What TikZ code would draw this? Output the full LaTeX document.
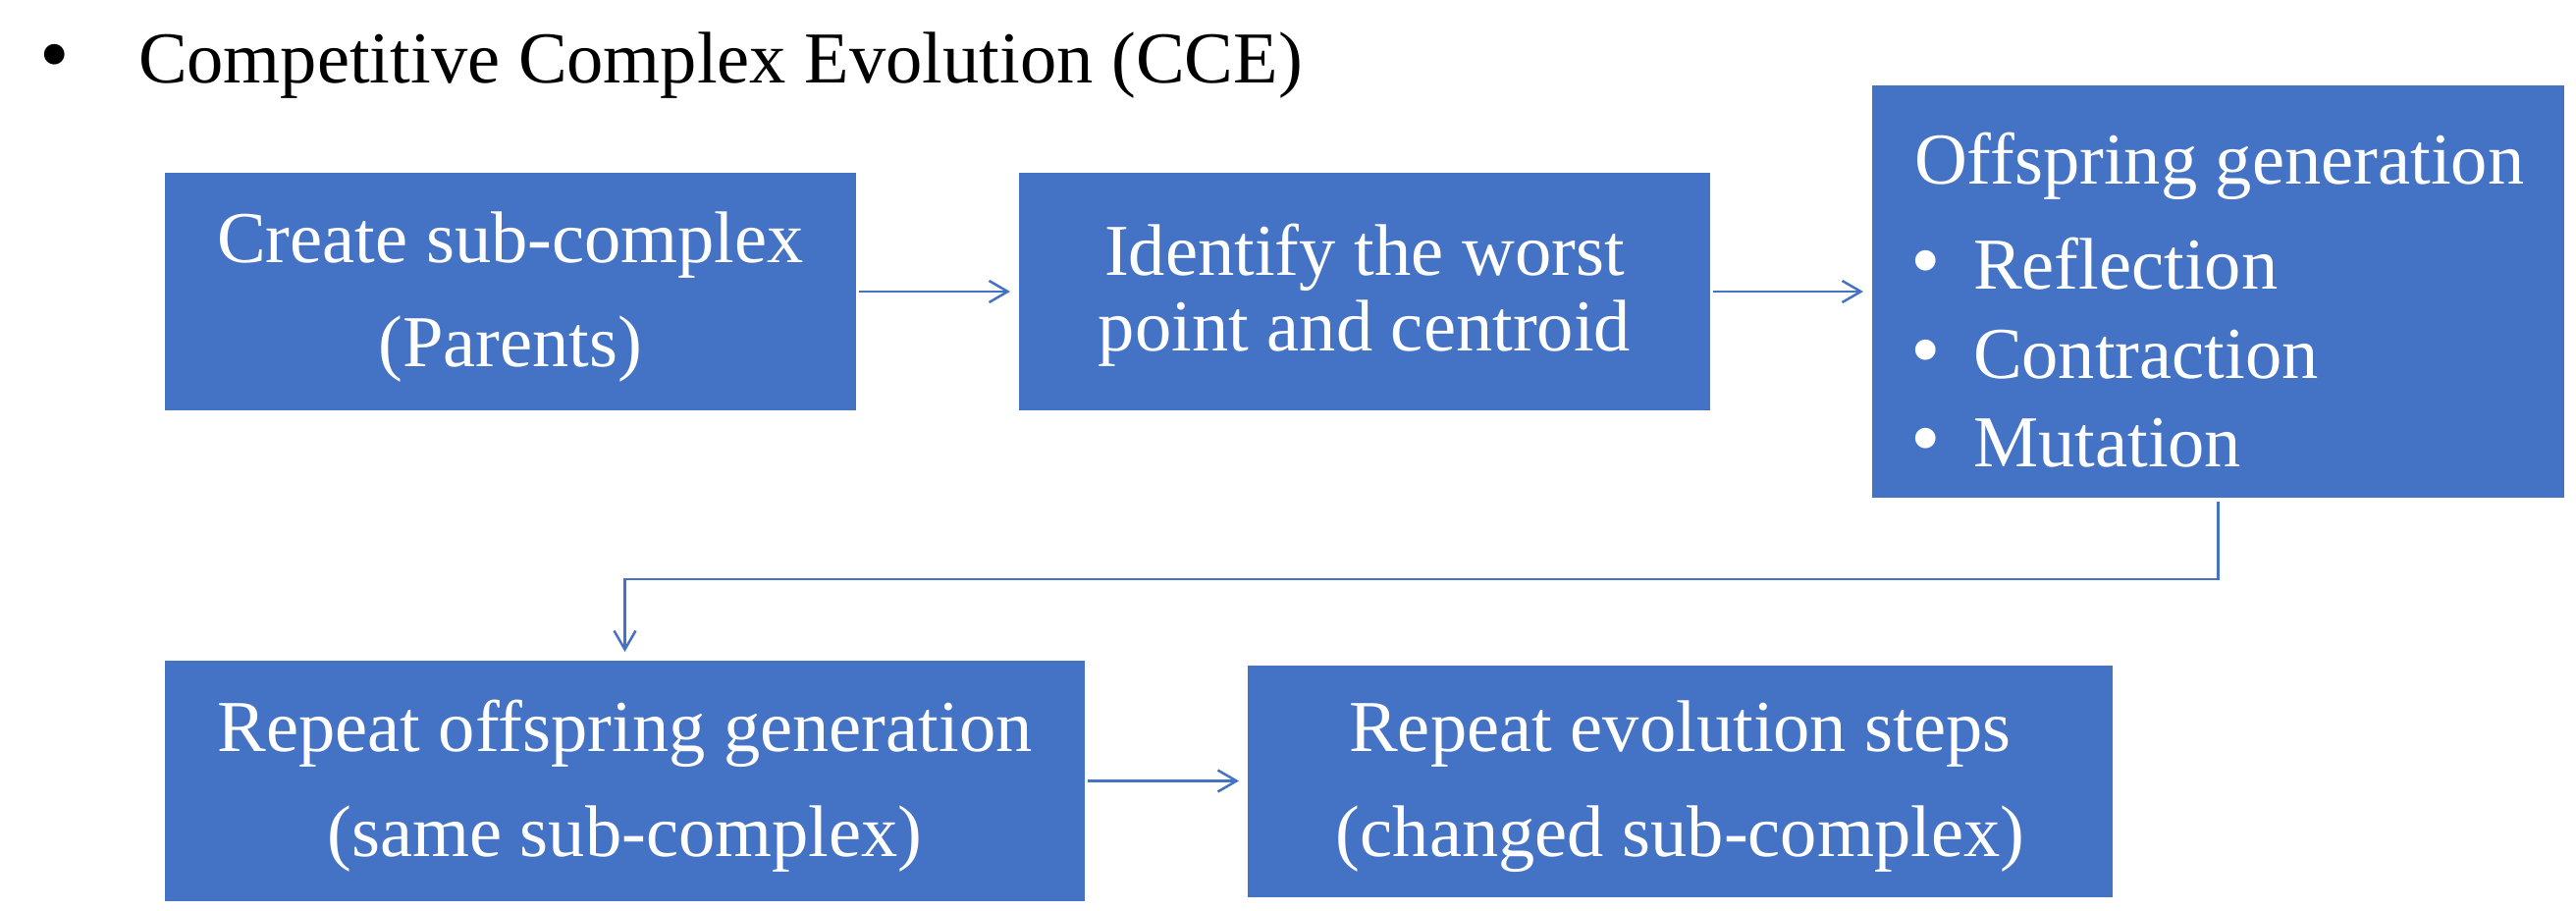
\documentclass[tikz,border=0pt]{standalone}
\usepackage{fontspec}
\setmainfont{Liberation Serif}
\usetikzlibrary{arrows.meta}
\definecolor{obl}{HTML}{4472C4}
\begin{document}
\begin{tikzpicture}[x=1pt,y=-1pt,
  box/.style={fill=obl, draw=none, inner sep=0pt, outer sep=0pt, rectangle},
  txt/.style={font=\fontsize{74.5}{80}\selectfont, inner sep=0pt, outer sep=0pt, anchor=base},
  wtxt/.style={txt, text=white},
  bul/.style={font=\fontsize{87}{90}\selectfont, inner sep=0pt, outer sep=0pt, anchor=base},
  arr/.style={draw=obl, line width=2.5pt, -{Straight Barb[length=19pt,width=22pt]}, shorten >=9pt, shorten <=3pt}]
\useasboundingbox (0,0) rectangle (2624,927);
% title
\node[bul] (tbul) at (56,84) {\textbullet};
\node[txt, anchor=base west] (title) at (141,84) {Competitive Complex Evolution (CCE)};
% boxes
\node[box, minimum width=704pt, minimum height=242pt] (B1) at (520,297) {};
\node[box, minimum width=704pt, minimum height=242pt] (B2) at (1390,297) {};
\node[box, minimum width=705pt, minimum height=420pt] (B3) at (2259.5,297) {};
\node[box, minimum width=937pt, minimum height=245pt] (B4) at (636.5,795.5) {};
\node[box, minimum width=881pt, minimum height=236pt] (B5) at (1711.5,796) {};
% box texts
\node[wtxt] (b1a) at (520,267) {Create sub-complex};
\node[wtxt] (b1b) at (520,373) {(Parents)};
\node[wtxt] (b2a) at (1390,280) {Identify the worst};
\node[wtxt] (b2b) at (1390,357) {point and centroid};
\node[wtxt, anchor=base west] (b3a) at (1950,187.5) {Offspring generation};
\node[bul, text=white] (b3u1) at (1962,294.5) {\textbullet};
\node[wtxt, anchor=base west] (b3b) at (2010,294.5) {Reflection};
\node[bul, text=white] (b3u2) at (1962,385.7) {\textbullet};
\node[wtxt, anchor=base west] (b3c) at (2010,385.7) {Contraction};
\node[bul, text=white] (b3u3) at (1962,475) {\textbullet};
\node[wtxt, anchor=base west] (b3d) at (2010,475) {Mutation};
\node[wtxt] (b4a) at (636.5,765) {Repeat offspring generation};
\node[wtxt] (b4b) at (636.5,872) {(same sub-complex)};
\node[wtxt] (b5a) at (1711.5,765) {Repeat evolution steps};
\node[wtxt] (b5b) at (1711.5,872) {(changed sub-complex)};
% connectors
\coordinate (bend) at (636.5,590);
\draw[arr] (B1.east) -- (B2.west);
\draw[arr] (B2.east) -- (B3.west);
\draw[arr, shorten <=4pt] (B3.south) |- (bend) -- (B4.north);
\draw[arr] (B4.east) -- (B4.east -| B5.west);
\end{tikzpicture}
\end{document}
